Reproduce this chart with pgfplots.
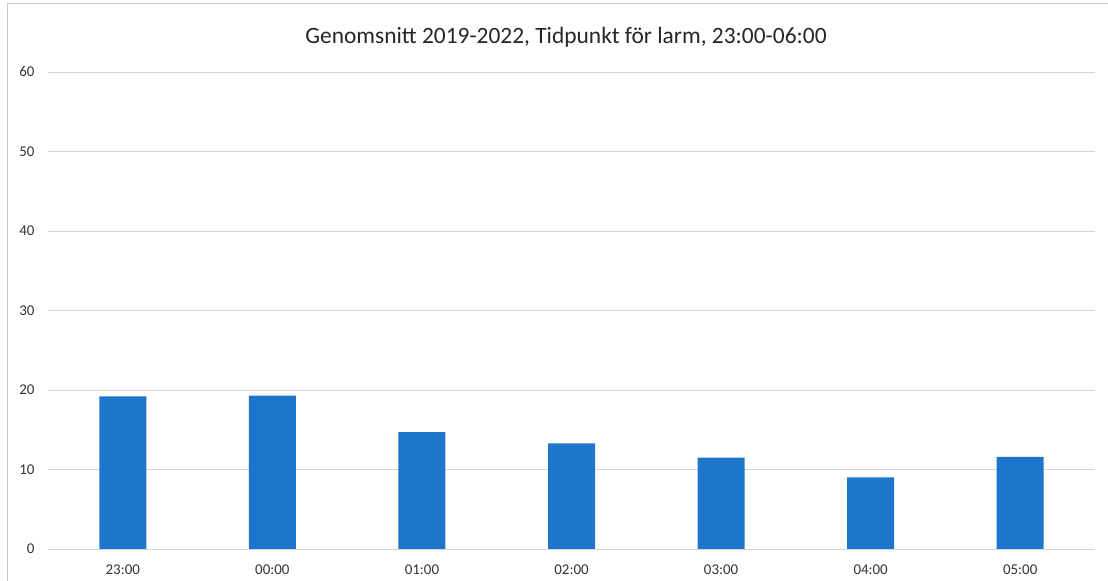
\documentclass[border=0pt]{standalone}
\usepackage{fontspec}
\setmainfont{Carlito}
\usepackage{pgfplots}
\pgfplotsset{compat=1.18}
\definecolor{barblue}{RGB}{30,118,204}
\definecolor{gridgray}{RGB}{212,212,212}
\definecolor{framegray}{RGB}{200,200,200}

\begin{document}
\begin{tikzpicture}[x=1bp,y=1bp]
% bounding box and scanned frame
\path[use as bounding box] (-48,-32) rectangle (1060,549);
\draw[framegray, line width=1bp] (-40,-32) -- (-40,545) -- (1060,545);
\begin{axis}[
    at={(0,0)}, anchor=south west,
    scale only axis,
    width=1047bp, height=477bp,
    xmin=-0.5, xmax=6.5,
    ymin=0, ymax=60,
    ytick={0,10,...,60},
    xtick={0,...,6},
    xticklabels={23:00,00:00,01:00,02:00,03:00,04:00,05:00},
    axis line style={draw=none},
    major tick length=0pt,
    ymajorgrids,
    grid style={gridgray, line width=0.8bp},
    tick label style={font=\fontsize{15}{17}\selectfont, text=black!80},
    /pgf/number format/assume math mode=true,
    yticklabel style={xshift=-10bp},
    xticklabel style={yshift=-12bp},
    ybar, bar width=47bp,
    clip=false,
]
\addplot[fill=barblue, draw=none] coordinates {
    (0,19.2) (1,19.3) (2,14.7) (3,13.3) (4,11.5) (5,9.0) (6,11.6)
};
\end{axis}
\node[font=\fontsize{23.5}{27}\selectfont, text=black!85] at (518,512) {Genomsnitt 2019-2022, Tidpunkt för larm, 23:00-06:00};
\end{tikzpicture}
\end{document}
